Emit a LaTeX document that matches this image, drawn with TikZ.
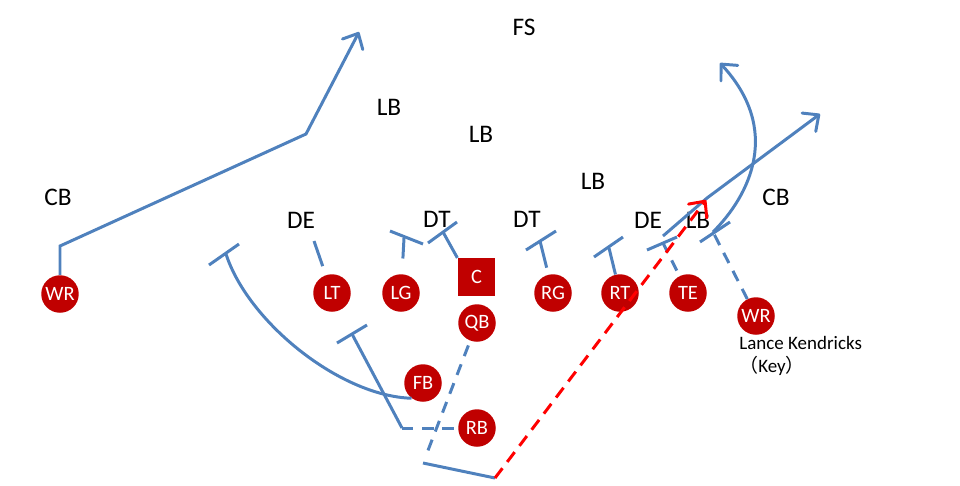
\documentclass[tikz,border=0pt]{standalone}
\usepackage{fontspec}
\setmainfont{Carlito}
\newfontfamily\cjk{Noto Sans CJK SC}
\usetikzlibrary{arrows.meta}
\tikzset{
    player/.style={circle,fill=playerred,text=white,inner sep=0pt,minimum size=0.75cm,font=\fontsize{11.6}{12}\selectfont},
    center/.style={rectangle,fill=playerred,text=white,inner sep=0pt,minimum size=0.75cm,font=\fontsize{11.6}{12}\selectfont},
    defender/.style={inner sep=0pt,font=\fontsize{14.4}{15}\selectfont},
    route/.style={routeblue,line width=1.7pt},
    option/.style={route,dash pattern=on 6.5pt off 5pt},
    blitz/.style={red,line width=1.7pt,dash pattern=on 7pt off 4.5pt},
    tip/.style={-{Straight Barb[length=7pt,width=13pt,round]}}
}
\definecolor{playerred}{HTML}{C00000}
\definecolor{routeblue}{HTML}{4F81BD}
\begin{document}
\begin{tikzpicture}[x=0.02cm,y=-0.02cm]
    \useasboundingbox (0,0) rectangle (960,485);

    %Defense
    \node[defender] (fs) at (524,27) {FS};
    \node[defender] (lbA) at (389,107) {LB};
    \node[defender] (lbB) at (481,134) {LB};
    \node[defender] (lbC) at (593,181) {LB};
    \node[defender] (lbD) at (698,220) {LB};
    \node[defender] (cbL) at (58,197) {CB};
    \node[defender] (cbR) at (776,197) {CB};
    \node[defender] (deL) at (301,220) {DE};
    \node[defender] (deR) at (648,220) {DE};
    \node[defender] (dtL) at (437,219) {DT};
    \node[defender] (dtR) at (527,219) {DT};

    %Offense
    \node[player] (wrL) at (60,294) {WR};
    \node[player] (lt) at (332,293) {LT};
    \node[player] (lg) at (401,293) {LG};
    \node[center] (c) at (476.5,277) {C};
    \node[player] (rg) at (553,293) {RG};
    \node[player] (rt) at (620,293) {RT};
    \node[player] (te) at (688,293) {TE};
    \node[player] (wrR) at (756,316) {WR};
    \node[player] (qb) at (477,323) {QB};
    \node[player] (fb) at (423,383) {FB};
    \node[player] (rb) at (477,428) {RB};

    \node[anchor=north west,inner sep=0pt,align=left,font=\fontsize{10.8}{13}\selectfont] (key) at (739,336) {Lance Kendricks\\{\cjk （}Key{\cjk ）}};

    %Route Points
    \coordinate (wrCut) at (60,246);
    \coordinate (wrTurn) at (306,134);
    \coordinate (wrEnd) at (359,32);
    \coordinate (ltEnd) at (314,241);
    \coordinate (lgEnd) at (404,238);
    \coordinate (cEnd) at (443,232);
    \coordinate (rgEnd) at (540,241);
    \coordinate (rtEnd) at (609,248);
    \coordinate (teEnd) at (663,243);
    \coordinate (wrKey) at (713,232);
    \coordinate (curlEnd) at (720,63);
    \coordinate (fbEnd) at (226,254);
    \coordinate (rbCut) at (402,428);
    \coordinate (rbEnd) at (352,334);
    \coordinate (qbEnd) at (427,453);
    \coordinate (dropA) at (423,463);
    \coordinate (dropB) at (495,478);
    \coordinate (blitzEnd) at (706,200);
    \coordinate (crossA) at (663,236);
    \coordinate (crossB) at (707,198);
    \coordinate (crossEnd) at (820,114);

    %Blocks Left
    \draw[route] (209,265) -- (239,244);
    \draw[route] (337,343) -- (367,325);
    \draw[route,shorten <=5.3pt] (lt) -- (ltEnd);
    \draw[route,shorten <=8.8pt] (lg) -- (lgEnd);
    \draw[route] (390,231) -- (423,244);
    \draw[route] (c.north west) -- (cEnd);
    \draw[route] (428,243) -- (457,222);

    %Blocks Right
    \draw[route,shorten <=4pt] (rg) -- (rgEnd);
    \draw[route] (526,250) -- (556,231);
    \draw[route] (rt) -- (rtEnd);
    \draw[route] (594,257) -- (623,237);
    \draw[option,shorten <=3.4pt] (te) -- (teEnd);
    \draw[route] (647,250) -- (677,237);
    \draw[option] (wrR) -- (wrKey);
    \draw[route] (700,242) -- (730,222);

    %Routes
    \draw[route,tip] (wrL) -- (wrCut) -- (wrTurn) -- (wrEnd);
    \draw[route] (fb.233) .. controls (340,396) and (248,322) .. (fbEnd);
    \draw[route] (rbEnd) -- (rbCut);
    \draw[option] (rbCut) -- (rb);
    \draw[option,shorten <=2.8pt] (qb) -- (qbEnd);
    \draw[route] (dropA) -- (dropB);
    \draw[route,tip] (crossA) -- (crossB) -- (crossEnd);
    \draw[route,tip] (wrKey) .. controls (750,195) and (782,130) .. (curlEnd);

    %Blitz
    \draw[blitz,tip] (dropB) -- (blitzEnd);
\end{tikzpicture}
\end{document}
